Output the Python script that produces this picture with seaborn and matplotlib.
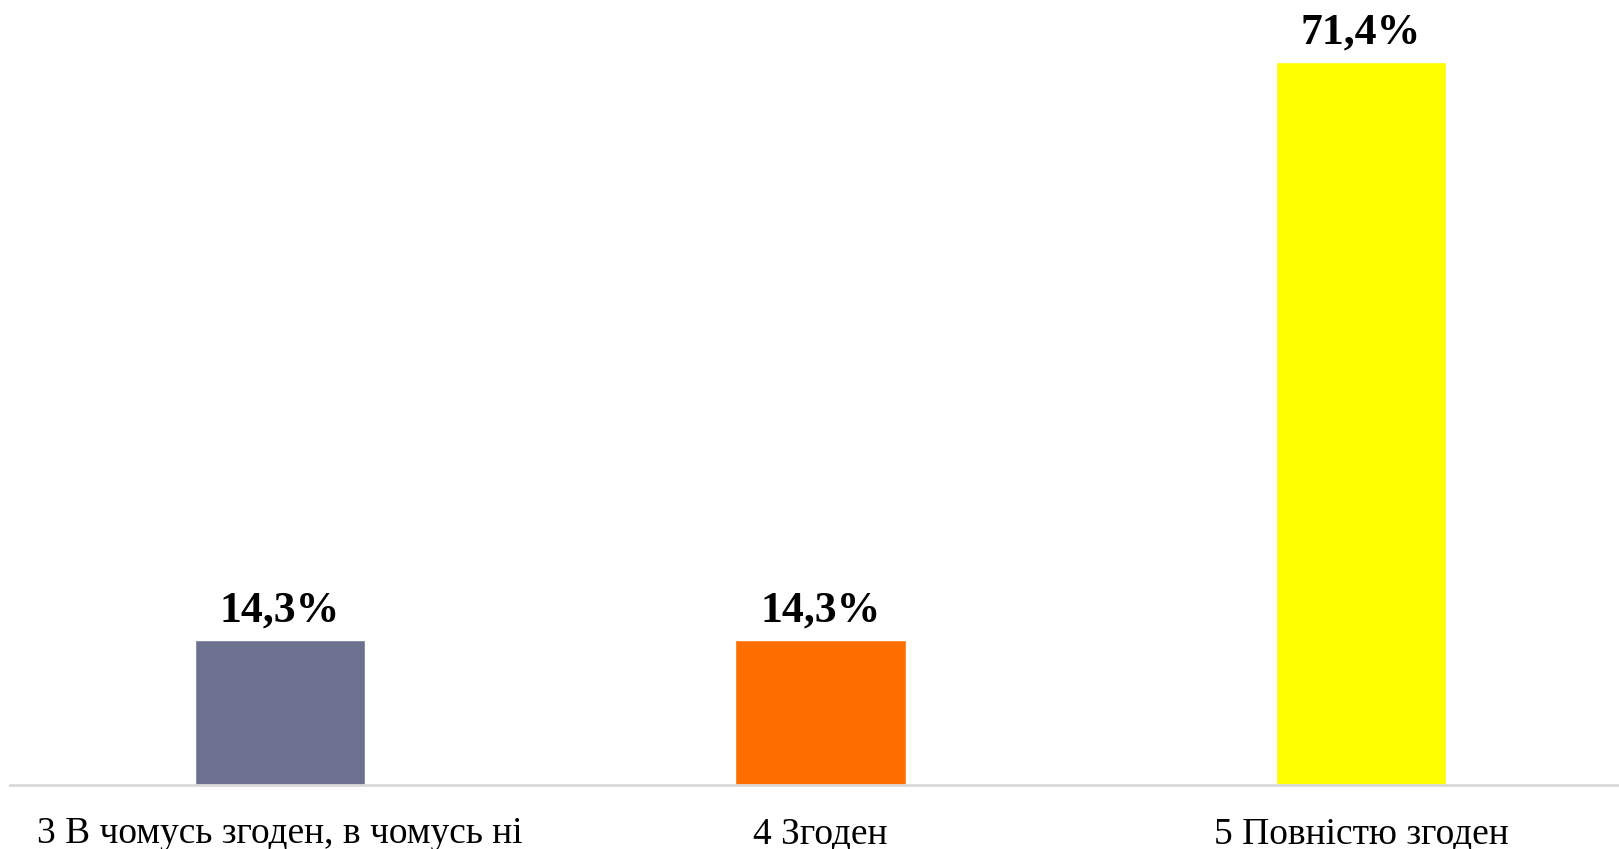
import matplotlib
matplotlib.use("Agg")
import matplotlib.pyplot as plt
import seaborn as sns
import pandas as pd

categories = ["3 В чомусь згоден, в чомусь ні", "4 Згоден", "5 Повністю згоден"]
values = [14.3, 14.3, 71.4]
value_labels = ["14,3%", "14,3%", "71,4%"]
colors = ["#6D7190", "#FF6F00", "#FFFF00"]

sns.set_theme(style="white")
plt.rcParams['font.family'] = ['Liberation Serif', 'DejaVu Serif']

df = pd.DataFrame({"cat": categories, "val": values})

fig = plt.figure(figsize=(16.19, 8.49), dpi=100)
ax = fig.add_axes([0.006, 0.0754, 1.0015, 1 - 0.0754])
sns.barplot(data=df, x="cat", y="val", hue="cat", palette=colors, width=0.315,
            legend=False, ax=ax, saturation=1)

ax.set_xlim(-0.5, 2.5)
ax.set_ylim(0, 77.5)
for c, lab in zip(ax.containers, value_labels):
    ax.bar_label(c, labels=[lab], padding=7, fontsize=31.5, fontweight="bold", color="black")

for s in ["top", "right", "left"]:
    ax.spines[s].set_visible(False)
ax.spines["bottom"].set_color("#D9D9D9")
ax.spines["bottom"].set_linewidth(2)
ax.set_yticks([])
ax.set_xlabel("")
ax.set_ylabel("")
ax.tick_params(axis="x", length=0, pad=23, labelsize=27, labelcolor="black")

fig.savefig("out.png", dpi=100)
